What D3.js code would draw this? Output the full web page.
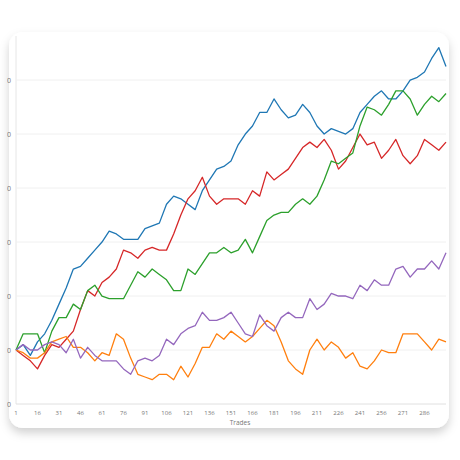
<!DOCTYPE html>
<html><head><meta charset="utf-8">
<script src="https://cdn.jsdelivr.net/npm/d3@7"></script>
<style>body{margin:0;background:#fff;font-family:"Open Sans",sans-serif}</style>
</head><body><svg id="c" width="460" height="460"></svg>
<script>
const trades = d3.range(1, 302, 5);
const xTicks = d3.range(1, 287, 15);
const yTicks = [-20, 0, 20, 40, 60, 80, 100];
const seriesNames = ["A", "B", "C", "D", "E"];
const colors = ["#1f77b4", "#d62728", "#2ca02c", "#ff7f0e", "#9467bd"];
const blue = [0,2,-2,3,6,11,17,23,30,31,34,37,40,44,43,41,41,41,45,46,47,54,57,56,54,52,59,63,67,68,70,76,80,83,88,88,93,89,86,87,91,88,83,80,82,81,80,82,88,91,94,96,93,93,96,100,101,103,108,112,105];
const red = [0,-2,-4,-7,-2,2,1,4,7,15,22,20,25,27,30,37,36,34,37,38,37,37,43,50,56,59,64,57,54,56,56,56,54,59,57,66,63,65,67,71,75,77,75,78,74,67,70,75,80,76,77,71,74,78,72,69,72,78,76,74,77];
const green = [0,6,6,6,-1,7,12,12,17,15,22,24,20,19,19,19,24,29,27,30,28,26,22,22,30,28,32,36,36,38,36,37,41,36,42,48,50,51,51,54,56,54,57,63,70,69,71,73,83,90,89,87,91,96,96,93,87,91,94,92,95];
const orange = [0,-1,-3,-3,-1,3,4,5,1,1,-1,-4,-1,-2,6,4,-3,-9,-10,-11,-9,-9,-11,-6,-10,-5,1,1,6,4,7,5,3,5,8,11,9,3,-4,-7,-9,0,4,0,3,1,-3,-1,-6,-7,-4,0,-1,-1,6,6,6,3,0,4,3];
const purple = [0,2,0,0,2,3,2,-1,4,-3,1,-2,-4,-4,-4,-7,-9,-4,-3,-4,-2,4,2,6,8,9,14,11,11,12,14,10,6,5,13,9,7,12,14,12,12,19,15,17,21,20,20,19,24,22,26,24,24,30,31,27,30,30,33,30,36];
const series = [blue, red, green, orange, purple];

const svg = d3.select("#c");
const defs = svg.append("defs");
const f = defs.append("filter").attr("id","sh").attr("x","-10%").attr("y","-10%").attr("width","120%").attr("height","125%");
f.append("feDropShadow").attr("dx",0).attr("dy",5).attr("stdDeviation",5).attr("flood-color","#000").attr("flood-opacity",0.18);
defs.append("clipPath").attr("id","cl").append("rect").attr("x",7).attr("y",0).attr("width",453).attr("height",460);

svg.append("rect").attr("x",9).attr("y",32).attr("width",440).attr("height",396).attr("rx",14).attr("fill","#fff").attr("filter","url(#sh)");

const x = d3.scaleLinear().domain([1, 301]).range([16, 446]);
const y = d3.scaleLinear().domain([-20, 117.8]).range([404, 32]);

const g = svg.append("g").attr("clip-path","url(#cl)");
g.append("line").attr("x1",16).attr("x2",16).attr("y1",36).attr("y2",404).attr("stroke","#e6e6e6");
g.selectAll(".gl").data(yTicks).join("line").attr("x1",16).attr("x2",446)
  .attr("y1",d=>y(d)).attr("y2",d=>y(d)).attr("stroke",d=>d===-20?"#e0e0e0":"#f0f0f0");
g.selectAll(".yl").data(yTicks).join("text").attr("x",11).attr("y",d=>y(d)+2.5)
  .attr("text-anchor","end").attr("font-size",7).attr("fill","#777").text(d=>d);
g.selectAll(".xl").data(xTicks).join("text").attr("x",d=>x(d)).attr("y",415)
  .attr("text-anchor","middle").attr("font-size",6).attr("fill","#777").text(d=>d);
g.append("text").attr("x",240).attr("y",425).attr("text-anchor","middle").attr("font-size",6.5).attr("fill","#777").text("Trades");

const line = d3.line().x((d,i)=>x(trades[i])).y(d=>y(d));
g.selectAll(".s").data(series).join("path").attr("d",line).attr("fill","none")
  .attr("stroke",(d,i)=>colors[i]).attr("stroke-width",1.3).attr("stroke-linejoin","round");
</script></body></html>
